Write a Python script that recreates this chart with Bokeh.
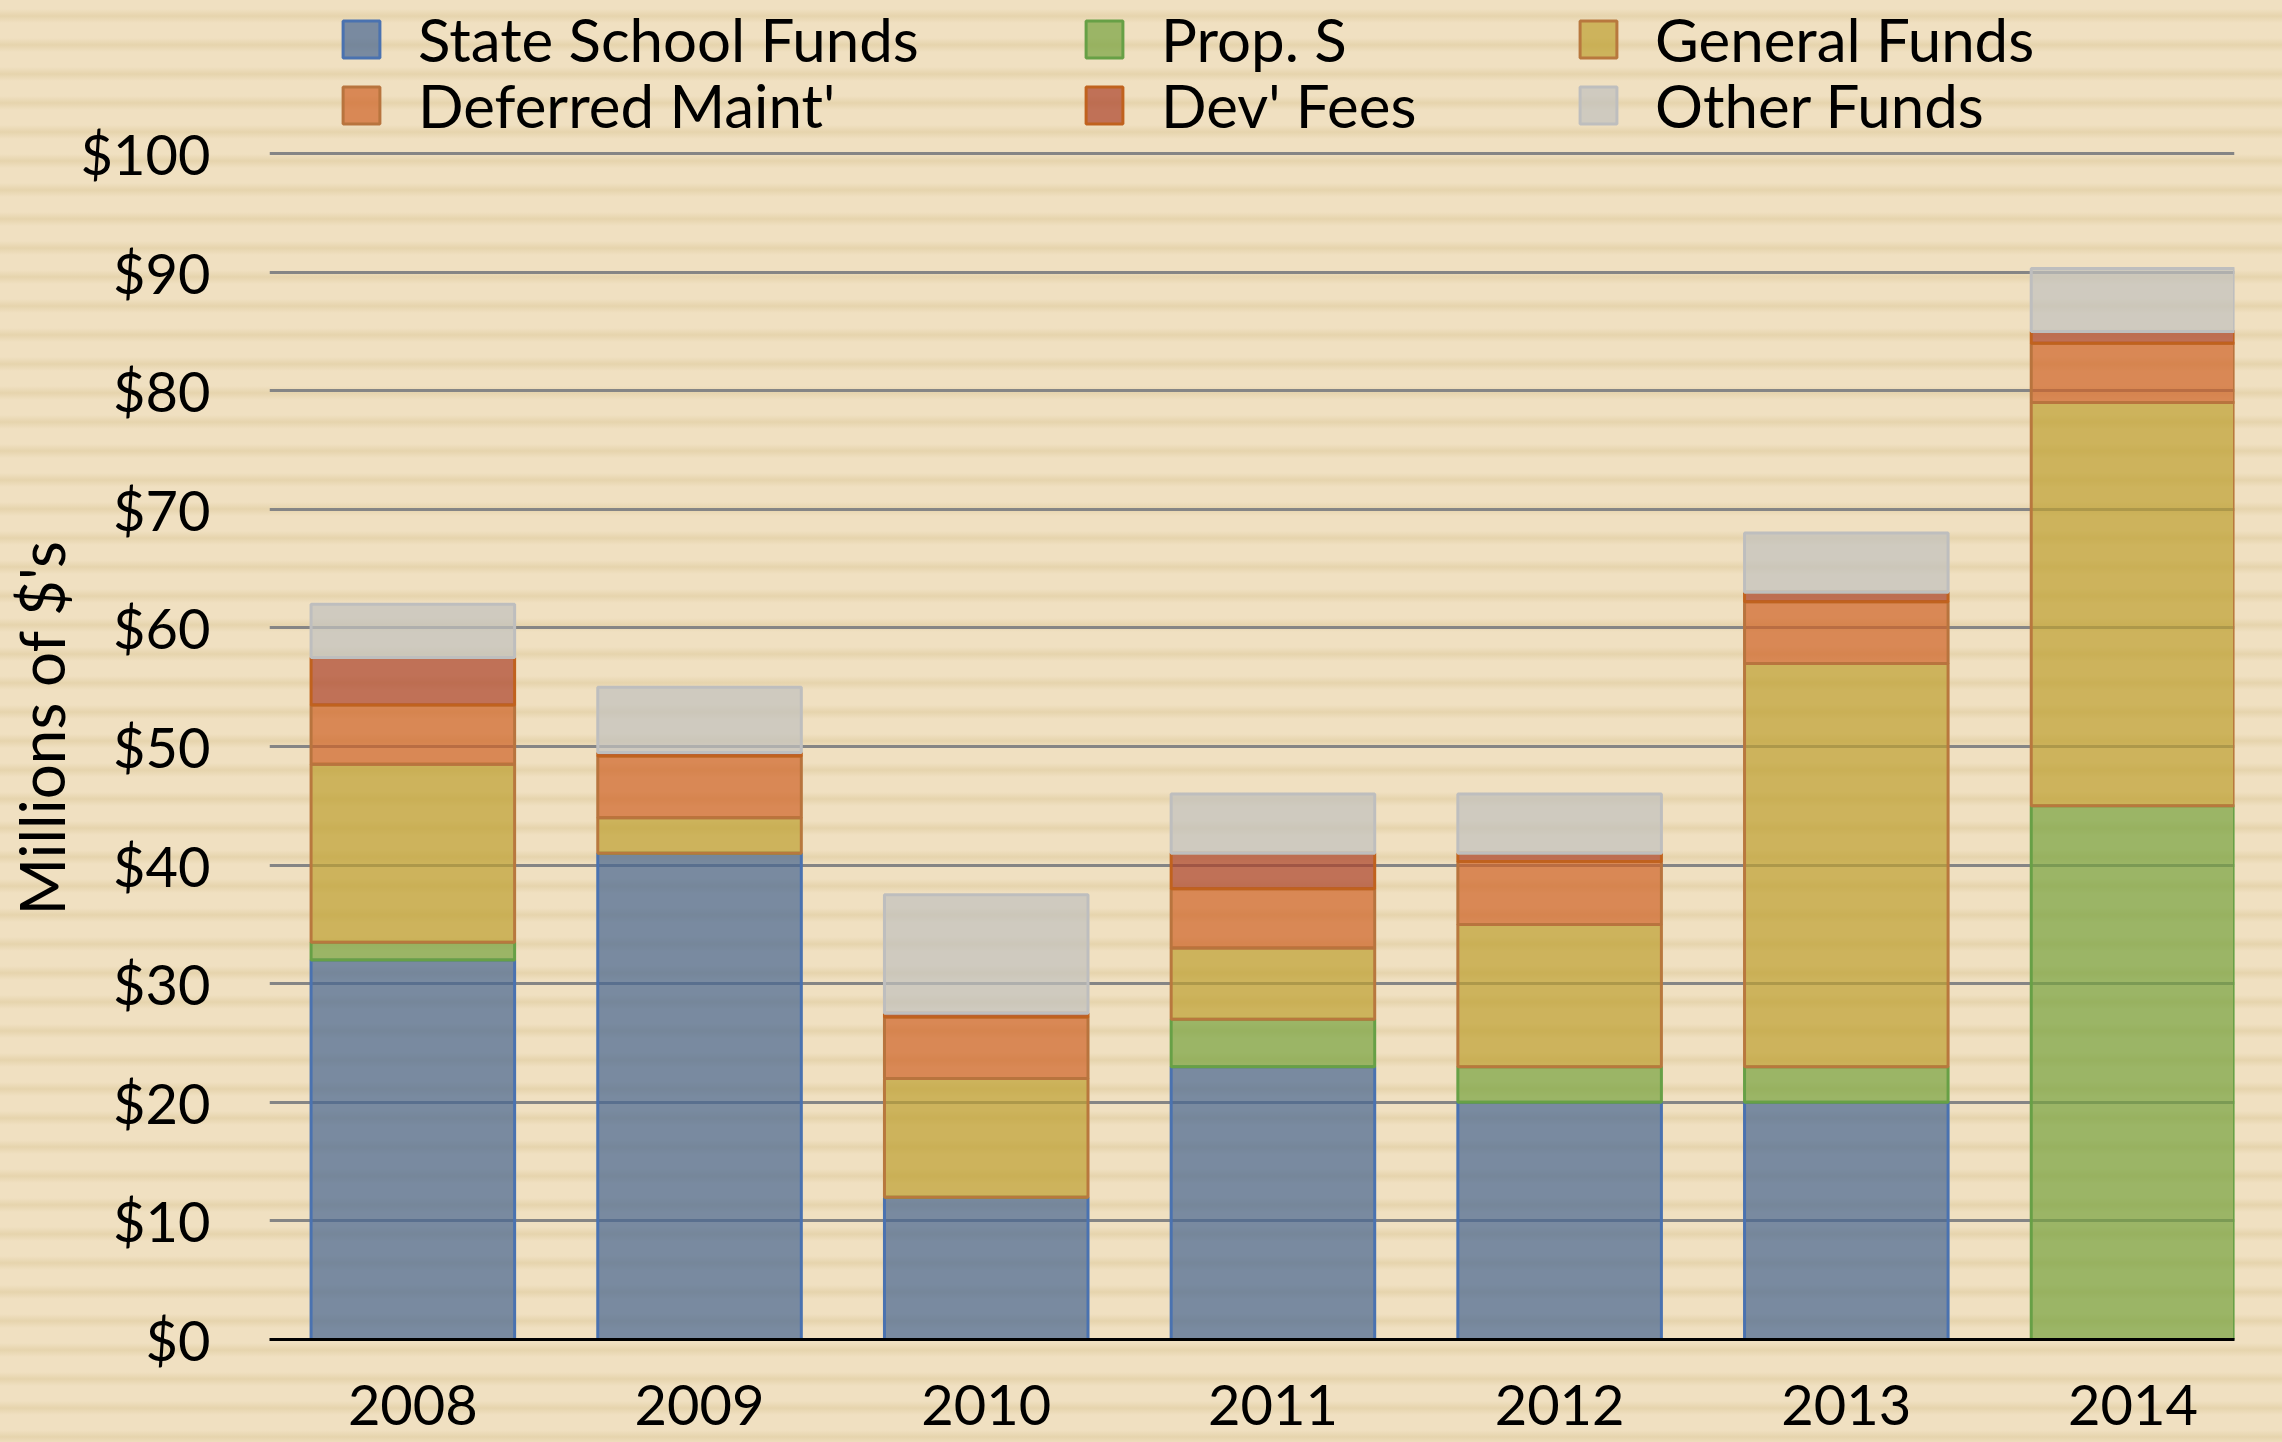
import math
from bokeh.plotting import figure
from bokeh.models import ColumnDataSource, Range1d, FixedTicker, Legend, LegendItem, Title
from bokeh.embed import file_html
from bokeh.resources import INLINE

# ---- data ----
years = ["2008", "2009", "2010", "2011", "2012", "2013", "2014"]
state_school = [32, 41, 12, 23, 20, 20, 0]
prop_s = [1.5, 0, 0, 4, 3, 3, 45]
general = [15, 3, 10, 6, 12, 34, 34]
deferred = [5, 5.2, 5.2, 5, 5.3, 5.2, 5]
dev_fees = [4, 0.3, 0.3, 3, 0.7, 0.8, 1]
other = [4.5, 5.5, 10, 5, 5, 5, 5.3]
series_names = ["State School Funds", "Prop. S", "General Funds",
                "Deferred Maint'", "Dev' Fees", "Other Funds"]
y_ticks = [0, 10, 20, 30, 40, 50, 60, 70, 80, 90, 100]

keys = ["state", "prop", "gen", "defm", "dev", "oth"]
idx = list(range(len(years)))
source = ColumnDataSource(dict(x=idx, state=state_school, prop=prop_s, gen=general,
                               defm=deferred, dev=dev_fees, oth=other))

fills = ["#466591", "#76A33E", "#BE9F30", "#CE6327", "#AB4229", "#C0C0BE"]
lines = ["#4A72B0", "#67A046", "#B8783E", "#B8743E", "#C0621E", "#BEBEBE"]

FONT = "Lato"
PX_PER_UNIT = 11.86
FRAME_H = 1339
FRAME_W = 1965

p = figure(frame_width=FRAME_W, frame_height=FRAME_H,
           x_range=Range1d(-0.5, 6.354), y_range=Range1d(0, FRAME_H / PX_PER_UNIT),
           output_backend="svg", toolbar_location=None,
           min_border_left=269, min_border_right=30, min_border_top=0, min_border_bottom=120)
p.background_fill_alpha = 0
p.border_fill_alpha = 0
p.outline_line_color = None

renderers = p.vbar_stack(keys, x="x", width=0.71, source=source,
                         fill_color=fills, line_color=lines, fill_alpha=0.7, line_width=3)

# axes
p.xaxis.ticker = FixedTicker(ticks=idx)
p.xaxis.major_label_overrides = {i: y for i, y in zip(idx, years)}
p.xaxis.major_tick_line_color = None
p.xaxis.minor_tick_line_color = None
p.xaxis.axis_line_color = "black"
p.xaxis.axis_line_width = 3
p.xaxis.major_label_standoff = 39
p.xaxis.major_label_text_font = FONT
p.xaxis.major_label_text_font_size = "56px"
p.xaxis.major_label_text_color = "black"

p.yaxis.ticker = FixedTicker(ticks=y_ticks)
p.yaxis.major_label_overrides = {t: "$" + str(t) for t in y_ticks}
p.yaxis.major_tick_line_color = None
p.yaxis.minor_tick_line_color = None
p.yaxis.axis_line_color = None
p.yaxis.major_label_standoff = 53
p.yaxis.major_label_text_font = FONT
p.yaxis.major_label_text_font_size = "56px"
p.yaxis.major_label_text_color = "black"

p.xgrid.grid_line_color = None
p.ygrid.ticker = FixedTicker(ticks=y_ticks)
p.ygrid.grid_line_color = "#858585"
p.ygrid.grid_line_width = 3

# axis title (left panel, anchored from the frame bottom)
p.add_layout(Title(text="Millions of $'s", align="left", offset=424, standoff=0,
                   text_font=FONT, text_font_size="62px", text_font_style="normal",
                   text_color="black"), "left")

# legend: 3 columns x 2 rows
col_x = [69, 812, 1306]
row_y = [1264, 1198]
for i, (name, r) in enumerate(zip(series_names, renderers)):
    col, row = i % 3, i // 3
    lg = Legend(items=[LegendItem(label=name, renderers=[r])],
                location=(col_x[col], row_y[row]),
                glyph_width=46, glyph_height=46, label_height=46,
                label_standoff=34, padding=0, margin=0, spacing=0,
                border_line_color=None, background_fill_alpha=0,
                label_text_font=FONT, label_text_font_size="60px",
                label_text_color="black")
    p.add_layout(lg, "center")

html = file_html(p, INLINE)
style = ("<style>html,body{overflow:hidden;}"
         "body{background:repeating-linear-gradient(to bottom,"
         "#F0E0C1 0px,#F0E0C1 9px,#E6D4AD 16px,#F0E0C1 23px,#F0E0C1 29px);}</style>")
html = html.replace("</head>", style + "</head>", 1)
open("out.html", "w").write(html)
